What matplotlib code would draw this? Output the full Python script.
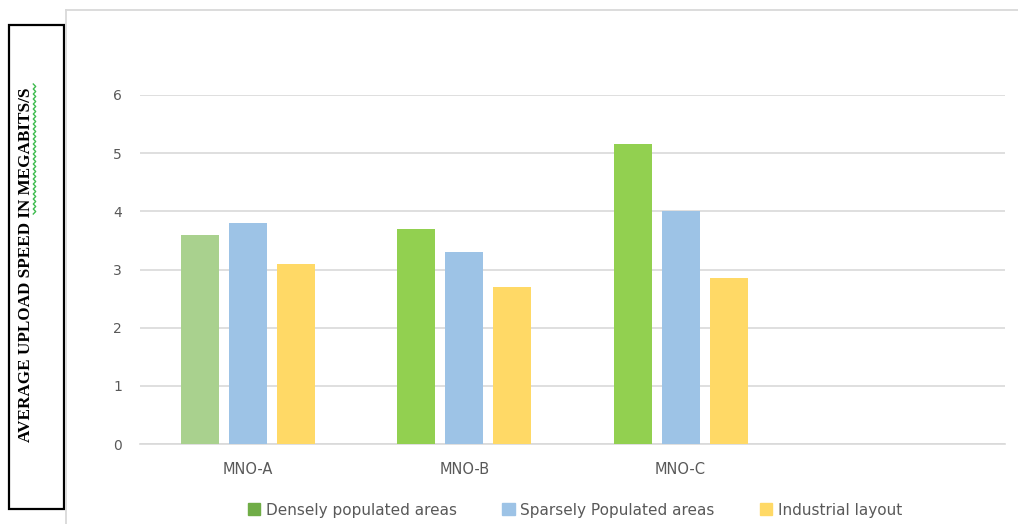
import numpy as np
import matplotlib
matplotlib.use("Agg")
import matplotlib.pyplot as plt
from matplotlib.patches import Rectangle, Patch

# upload speed per operator (Mbit/s)
categories = ["MNO-A", "MNO-B", "MNO-C", ""]
densely = [3.6, 3.7, 5.15]
sparsely = [3.8, 3.3, 4.0]
industrial = [3.1, 2.7, 2.85]
series_names = ["Densely populated areas", "Sparsely Populated areas", "Industrial layout"]
y_ticks = [0, 1, 2, 3, 4, 5, 6]

dense_colors = ["#A9D18E", "#92D050", "#92D050"]
blue = "#9DC3E6"
yellow = "#FFD966"
legend_green = "#70AD47"
text_gray = "#595959"
grid_gray = "#D9D9D9"

W, H = 1018, 524
fig = plt.figure(figsize=(W / 100, H / 100), dpi=100)

# overlay in pixel coordinates for the frame and the boxed axis title
ov = fig.add_axes([0, 0, 1, 1])
ov.set_xlim(0, W)
ov.set_ylim(H, 0)
ov.axis("off")
ov.plot([66, 66], [H, 10], color=grid_gray, lw=1.3)
ov.plot([66, W], [10, 10], color=grid_gray, lw=1.3)
ov.add_patch(Rectangle((9, 25), 55, 484, fill=False, ec="black", lw=1.6))
ov.text(26.5, 265, "AVERAGE UPLOAD SPEED IN MEGABITS/S", rotation=90,
        ha="center", va="center", family="Liberation Serif",
        weight="bold", fontsize=12.3, color="black")
# spell-check squiggle
sy = np.arange(84, 216, 2.5)
sx = 34.5 + np.where(np.arange(len(sy)) % 2 == 0, -1.2, 1.2)
ov.plot(sx, sy, color="#3DBB4E", lw=1.0)

ax = fig.add_axes([140 / W, 1 - 444 / H, 865 / W, (444 - 95) / H])
x = np.arange(len(densely))
bw = 0.175
off = 0.222
ax.bar(x - off, densely, bw, color=dense_colors, zorder=3)
ax.bar(x, sparsely, bw, color=blue, zorder=3)
ax.bar(x + off, industrial, bw, color=yellow, zorder=3)

ax.set_xlim(-0.5, len(categories) - 0.5)
ax.set_ylim(0, 6)
ax.set_xticks(range(len(categories)))
ax.set_xticklabels(categories)
ax.set_yticks(y_ticks)
ax.grid(axis="y", color=grid_gray, lw=1.2, zorder=0)
ax.set_axisbelow(True)
for s in ax.spines.values():
    s.set_visible(False)
ax.axhline(0, color=grid_gray, lw=1.2, zorder=1, clip_on=False)
ax.tick_params(axis="x", length=0, pad=13, labelsize=10.5, labelcolor=text_gray)
ax.tick_params(axis="y", length=0, pad=13, labelsize=10, labelcolor=text_gray)
for lab in ax.get_xticklabels() + ax.get_yticklabels():
    lab.set_family("DejaVu Sans")

handles = [Patch(color=c) for c in [legend_green, blue, yellow]]
fig.legend(handles, series_names, loc="center",
           bbox_to_anchor=(575 / W, 1 - 510 / H), ncol=3, frameon=False,
           handlelength=0.8, handleheight=0.8, handletextpad=0.35,
           columnspacing=3.0, labelcolor=text_gray,
           prop={"family": "DejaVu Sans", "size": 11})

fig.savefig("out.png", dpi=100)
